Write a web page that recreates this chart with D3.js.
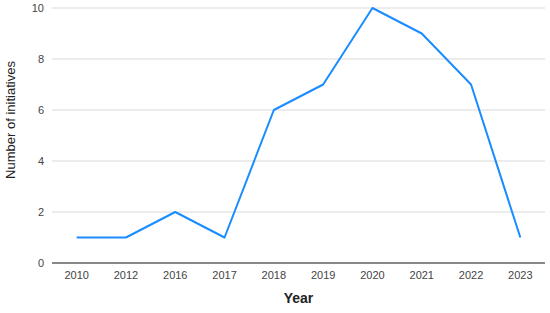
<!DOCTYPE html>
<html>
<head>
<meta charset="utf-8">
<script src="https://cdn.jsdelivr.net/npm/d3@7"></script>
<style>
  body { margin: 0; background: #fff; }
  text { font-family: "Liberation Sans", Arial, sans-serif; }
</style>
</head>
<body>
<script>
const years = ["2010", "2012", "2016", "2017", "2018", "2019", "2020", "2021", "2022", "2023"];
const initiatives = [1, 1, 2, 1, 6, 7, 10, 9, 7, 1];
const yTicks = [0, 2, 4, 6, 8, 10];

const w = 550;
const h = 313;
const padLeft = 52, padRight = 545, padTop = 8, padBottom = 263;

const svg = d3.select("body")
  .append("svg")
  .attr("width", w)
  .attr("height", h);

const xScale = d3.scaleBand()
  .domain(years)
  .range([padLeft, padRight]);

const yScale = d3.scaleLinear()
  .domain([0, 10])
  .range([padBottom, padTop]);

// gridlines
svg.selectAll("line.grid")
  .data(yTicks.filter(d => d > 0))
  .enter()
  .append("line")
  .attr("class", "grid")
  .attr("x1", padLeft)
  .attr("x2", padRight)
  .attr("y1", d => yScale(d))
  .attr("y2", d => yScale(d))
  .attr("stroke", "#d9d9d9")
  .attr("stroke-width", 1);

// y tick labels
svg.selectAll("text.ytick")
  .data(yTicks)
  .enter()
  .append("text")
  .attr("class", "ytick")
  .attr("x", padLeft - 8)
  .attr("y", d => yScale(d) + 4)
  .attr("text-anchor", "end")
  .attr("font-size", 11)
  .attr("fill", "#444")
  .text(d => d);

// baseline
svg.append("line")
  .attr("x1", padLeft)
  .attr("x2", padRight)
  .attr("y1", yScale(0))
  .attr("y2", yScale(0))
  .attr("stroke", "#888")
  .attr("stroke-width", 2);

// x axis labels
const xAxis = d3.axisBottom(xScale).tickSize(0).tickPadding(8);
const gx = svg.append("g")
  .attr("transform", "translate(0," + padBottom + ")")
  .call(xAxis);
gx.select(".domain").remove();
gx.selectAll("text")
  .attr("font-size", 11)
  .attr("font-family", "Liberation Sans, Arial, sans-serif")
  .attr("fill", "#444");

// line
const line = d3.line()
  .x((d, i) => xScale(years[i]) + xScale.bandwidth() / 2)
  .y(d => yScale(d));

svg.append("path")
  .datum(initiatives)
  .attr("d", line)
  .attr("fill", "none")
  .attr("stroke", "#1a8cff")
  .attr("stroke-width", 2)
  .attr("stroke-linejoin", "round");

// axis titles
svg.append("text")
  .attr("x", (padLeft + padRight) / 2)
  .attr("y", 303)
  .attr("text-anchor", "middle")
  .attr("font-size", 14)
  .attr("font-weight", "bold")
  .attr("fill", "#222")
  .text("Year");

svg.append("text")
  .attr("transform", "translate(15,120) rotate(-90)")
  .attr("text-anchor", "middle")
  .attr("font-size", 13)
  .attr("fill", "#222")
  .text("Number of initiatives");
</script>
</body>
</html>
